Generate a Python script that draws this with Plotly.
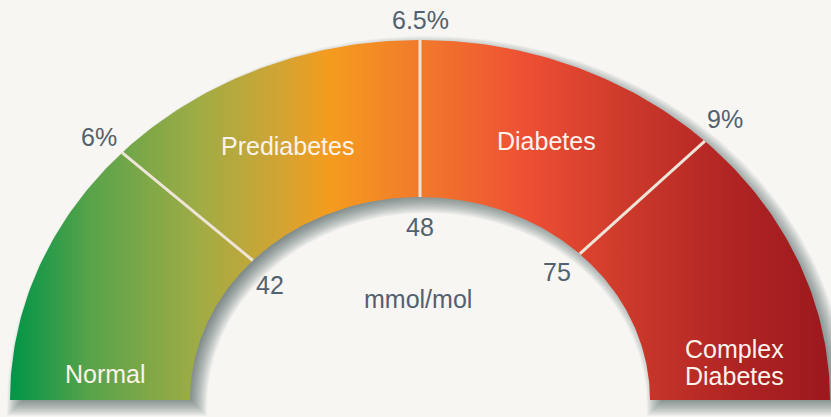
import numpy as np
import plotly.graph_objects as go

# ---- data -------------------------------------------------------------
stages = ["Normal", "Prediabetes", "Diabetes", "Complex<br>Diabetes"]
stage_span_deg = [43.4, 46.6, 44.0, 46.0]      # angular share of each stage on the dial
hba1c_pct = ["6%", "6.5%", "9%"]               # boundary labels (outside)
hba1c_mmol = ["42", "48", "75"]                # boundary labels (inside)
unit_label = "mmol/mol"

# ---- geometry / style ---------------------------------------------------
RX, RY = 410.0, 360.0          # outer ellipse radii (px)
rx, ry = 230.0, 203.0          # inner ellipse radii (px)
BG = "#F7F6F3"
TXT = "#53606D"
DIV = "#EEE5D8"
FONT = "Liberation Sans, Arial, Helvetica, sans-serif"
FS = 25
LINE_GAP = 27

grad = [
    [0.00, "#009548"],
    [0.10, "#5AA34A"],
    [0.23, "#A0AC45"],
    [0.33, "#D2A433"],
    [0.39, "#F59C1E"],
    [0.50, "#F17A2B"],
    [0.63, "#EE4F34"],
    [0.75, "#CD3A2B"],
    [0.87, "#B22624"],
    [1.00, "#9C181D"],
]

bounds = 180 - np.cumsum(stage_span_deg)[:-1]   # divider angles (deg)


def ring(k=0.0, dx=0.0, dy=0.0, n=240):
    t = np.radians(np.linspace(180, 0, n))
    ox = (RX + k) * np.cos(t)
    oy = (RY + k) * np.sin(t)
    ix = (rx - k) * np.cos(t[::-1])
    iy = (ry - k) * np.sin(t[::-1])
    bot = -k
    xs = np.concatenate([[-(RX + k)], ox, [RX + k, rx - k], ix, [-(rx - k), -(RX + k)]])
    ys = np.concatenate([[bot], oy, [bot, bot], iy, [bot, bot]])
    return xs + dx, ys + dy


fig = go.Figure()

# soft drop shadow
for k in range(-8, 11):
    xs, ys = ring(k, 7, -6)
    fig.add_trace(go.Scatter(x=xs, y=ys, mode="lines", fill="toself",
                             fillcolor="rgba(55,65,75,0.045)", line=dict(width=0),
                             hoverinfo="skip", showlegend=False))

# gradient dial
xs, ys = ring()
fig.add_trace(go.Scatter(x=xs, y=ys, mode="lines", fill="toself",
                         fillgradient=dict(type="horizontal", colorscale=grad,
                                           start=-RX, stop=RX),
                         line=dict(width=0), hoverinfo="skip", showlegend=False))

# dividers
for a in bounds:
    r = np.radians(a)
    fig.add_trace(go.Scatter(x=[rx * np.cos(r), RX * np.cos(r)],
                             y=[ry * np.sin(r), RY * np.sin(r)],
                             mode="lines", line=dict(color=DIV, width=3),
                             hoverinfo="skip", showlegend=False))

ann = []
# outside % labels
pct_pos = [(-321, 263), (0, 380), (305, 281)]
for lab, (x, y) in zip(hba1c_pct, pct_pos):
    ann.append(dict(x=x, y=y, text=lab, showarrow=False,
                    font=dict(size=FS, color=TXT, family=FONT)))
# inside mmol labels
mm_pos = [(-150, 115), (0, 173), (137, 128)]
for lab, (x, y) in zip(hba1c_mmol, mm_pos):
    ann.append(dict(x=x, y=y, text=lab, showarrow=False,
                    font=dict(size=FS, color=TXT, family=FONT)))
ann.append(dict(x=-2, y=101, text=unit_label, showarrow=False,
                font=dict(size=FS, color=TXT, family=FONT)))
# stage labels (multi-line labels stacked with a tighter line gap)
st_pos = [(-314.5, 26), (-133, 254), (126.5, 259), (314.5, 37.5)]
for lab, (x, y) in zip(stages, st_pos):
    lines = lab.split("<br>")
    top = y + LINE_GAP * (len(lines) - 1) / 2
    for i, ln in enumerate(lines):
        ann.append(dict(x=x, y=top - i * LINE_GAP, text=ln, showarrow=False,
                        font=dict(size=FS, color="#FBF3EC", family=FONT)))

fig.update_layout(
    width=831, height=417, autosize=False,
    margin=dict(l=0, r=0, t=0, b=0),
    paper_bgcolor=BG, plot_bgcolor=BG,
    xaxis=dict(range=[-420, 411], visible=False, fixedrange=True),
    yaxis=dict(range=[-17, 400], visible=False, fixedrange=True),
    annotations=ann,
    showlegend=False,
)

fig.write_html("out.html", config={"displayModeBar": False},
               post_script="document.body.style.margin='0';"
                           "document.body.style.overflow='hidden';"
                           "document.body.style.background='" + BG + "';")
